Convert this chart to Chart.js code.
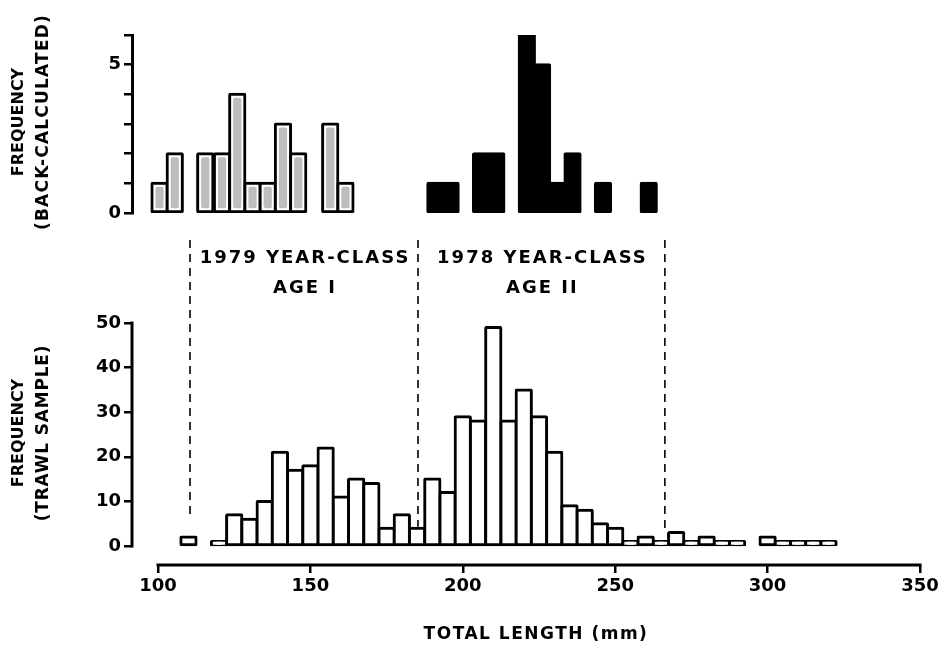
<!DOCTYPE html>
<html><head><meta charset="utf-8">
<script src="https://cdn.jsdelivr.net/npm/chart.js@4"></script>
<style>
html,body{margin:0;padding:0;background:#fff;}
#wrap{position:relative;width:952px;height:649px;background:#fff;}
canvas{position:absolute;left:0;top:0;}
</style></head><body>
<div id="wrap"><canvas id="bottomChart" width="952" height="649"></canvas><canvas id="topChart" width="952" height="649"></canvas></div>
<script>
// ---- data ----
const lengthTicks = [100, 150, 200, 250, 300, 350];
const trawlTicks = [0, 10, 20, 30, 40, 50];
const backCalcTicks = [0, 1, 2, 3, 4, 5, 6];
const backCalcTickLabels = ['0', '', '', '', '', '5', ''];

// trawl sample (5 mm bins, bin centres in mm)
const trawlLengths = [110, 120, 125, 130, 135, 140, 145, 150, 155, 160, 165, 170, 175, 180, 185, 190, 195, 200, 205, 210, 215, 220, 225, 230, 235, 240, 245, 250, 255, 260, 265, 270, 275, 280, 285, 290, 300, 305, 310, 315, 320];
const trawlFreq    = [2,   1,   7,   6,   10,  21,  17,  18,  22,  11,  15,  14,  4,   7,   4,   15,  12,  29,  28,  49,  28,  35,  29,  21,  9,   8,   5,   4,   1,   2,   1,   3,   1,   2,   1,   1,   2,   1,   1,   1,   1];

// back-calculated lengths
const yc1979Lengths = [100.5, 105.5, 115.5, 121, 126, 131, 136, 141, 146, 156.5, 161.5];
const yc1979Freq    = [1, 2, 2, 2, 4, 1, 1, 3, 2, 3, 1];
const yc1978Lengths = [191, 196, 206, 211, 221, 226, 231, 236, 246, 261];
const yc1978Freq    = [1, 1, 2, 2, 6, 5, 1, 2, 1, 1];

// year-class boundaries (mm)
const ageBoundaries = [110.5, 185.3, 266.3];
const groupLabels = [['1979 YEAR-CLASS', 'AGE I'], ['1978 YEAR-CLASS', 'AGE II']];
const topAxisTitle = ['FREQUENCY', '(BACK-CALCULATED)'];
const bottomAxisTitle = ['FREQUENCY', '(TRAWL SAMPLE)'];
const xAxisTitle = 'TOTAL LENGTH (mm)';

// ---- styling / layout ----
const FONT = "'DejaVu Sans', sans-serif";
Chart.defaults.font.family = FONT;
Chart.defaults.font.weight = 'bold';
Chart.defaults.color = '#000';

const X_MIN = 100 - 26 / 3.048;   // keeps the y axis detached from the first length tick
const BAR_W = 5 * 3.048;

function toPoints(xs, ys) { return xs.map((x, i) => ({x: x, y: ys[i]})); }

function drawYTitle(ctx, lines, cy, spacing2) {
  ctx.save();
  ctx.fillStyle = '#000';
  ctx.textAlign = 'center';
  ctx.textBaseline = 'middle';
  ctx.translate(0, cy);
  ctx.rotate(-Math.PI / 2);
  ctx.font = "bold 16px " + FONT;
  ctx.letterSpacing = '0px';
  ctx.fillText(lines[0], 0, 19);
  ctx.font = "bold 17px " + FONT;
  ctx.letterSpacing = spacing2;
  ctx.fillText(lines[1], 0, 44);
  ctx.restore();
}

const barStyle = {
  borderColor: '#000',
  borderWidth: 3,
  borderSkipped: false,
  borderRadius: 2,
  inflateAmount: 1.5,
  barThickness: BAR_W,
  grouped: false
};

const greyFill = {
  id: 'greyFill',
  afterDatasetDraw(chart, args) {
    if (args.index !== 0) return;
    const ctx = chart.ctx;
    ctx.save();
    ctx.fillStyle = '#bdbdbd';
    args.meta.data.forEach(el => {
      const p = el.getProps(['x', 'y', 'base', 'width'], true);
      const inset = 3.5;
      const l = p.x - p.width / 2 + inset, r = p.x + p.width / 2 - inset;
      const t = p.y + inset, b = p.base - inset;
      ctx.beginPath();
      ctx.roundRect(l, t, r - l, b - t, 2);
      ctx.fill();
    });
    ctx.restore();
  },
  afterDraw(chart) {
    const a = chart.chartArea;
    drawYTitle(chart.ctx, topAxisTitle, (a.top + a.bottom) / 2 - 2, '1.2px');
  }
};

const bottomDecor = {
  id: 'bottomDecor',
  afterDraw(chart) {
    const {ctx, chartArea, scales: {x, y}} = chart;
    ctx.save();
    ctx.strokeStyle = '#000';
    ctx.lineWidth = 3;
    // y axis line (0..50)
    ctx.beginPath();
    ctx.moveTo(chartArea.left, y.getPixelForValue(trawlTicks[0]) + 1.5);
    ctx.lineTo(chartArea.left, y.getPixelForValue(trawlTicks[trawlTicks.length - 1]) - 1.5);
    ctx.stroke();
    // x axis line (100..350)
    ctx.beginPath();
    ctx.moveTo(x.getPixelForValue(lengthTicks[0]) - 1.5, chartArea.bottom);
    ctx.lineTo(x.getPixelForValue(lengthTicks[lengthTicks.length - 1]) + 1.5, chartArea.bottom);
    ctx.stroke();
    // dashed year-class boundaries
    const dashEnds = [6.3, 4.3, 3.1];
    ctx.lineWidth = 1.6;
    ctx.setLineDash([8, 6]);
    ageBoundaries.forEach((b, i) => {
      const px = x.getPixelForValue(b);
      ctx.beginPath();
      ctx.moveTo(px, 240);
      ctx.lineTo(px, y.getPixelForValue(dashEnds[i]));
      ctx.stroke();
    });
    ctx.setLineDash([]);
    // group labels
    ctx.fillStyle = '#000';
    ctx.textAlign = 'center';
    ctx.textBaseline = 'middle';
    ctx.font = "bold 18px " + FONT;
    ctx.letterSpacing = '2px';
    groupLabels.forEach((lines, i) => {
      const cx = (x.getPixelForValue(ageBoundaries[i]) + x.getPixelForValue(ageBoundaries[i + 1])) / 2;
      ctx.fillText(lines[0], cx + 1, 258);
      ctx.fillText(lines[1], cx + 1, 288);
    });
    // x title
    ctx.font = "bold 17px " + FONT;
    ctx.letterSpacing = '1.5px';
    ctx.fillText(xAxisTitle, 536, 635);
    ctx.restore();
    // y title
    drawYTitle(ctx, bottomAxisTitle, 433, '0.8px');
  }
};

const commonTicksFont = {size: 18, weight: 'bold', family: FONT};

new Chart(document.getElementById('bottomChart'), {
  type: 'bar',
  data: {
    datasets: [Object.assign({
      label: 'Trawl sample',
      data: toPoints(trawlLengths, trawlFreq),
      backgroundColor: '#fff'
    }, barStyle)]
  },
  options: {
    responsive: false,
    animation: false,
    devicePixelRatio: 1,
    layout: {padding: {top: 323, left: 0, right: 32, bottom: 0}},
    plugins: {legend: {display: false}, tooltip: {enabled: false}},
    scales: {
      x: {
        type: 'linear', min: X_MIN, max: 350, offset: false,
        afterFit: s => { s.height = 84; },
        afterBuildTicks: s => { s.ticks = lengthTicks.map(v => ({value: v})); },
        ticks: {font: commonTicksFont, padding: 3, autoSkip: false, maxRotation: 0},
        grid: {drawOnChartArea: false, tickLength: 8, lineWidth: 2.5, color: '#000', offset: false},
        border: {display: false}
      },
      y: {
        min: -19 / 4.46, max: 50,
        afterFit: s => { s.width = 132; },
        afterBuildTicks: s => { s.ticks = trawlTicks.map(v => ({value: v})); },
        ticks: {font: commonTicksFont, padding: 3},
        grid: {drawOnChartArea: false, tickLength: 8, lineWidth: 2.5, color: '#000'},
        border: {display: false}
      }
    }
  },
  plugins: [bottomDecor]
});

new Chart(document.getElementById('topChart'), {
  type: 'bar',
  data: {
    datasets: [Object.assign({
      label: '1979 year-class',
      data: toPoints(yc1979Lengths, yc1979Freq),
      backgroundColor: '#fff'
    }, barStyle), Object.assign({
      label: '1978 year-class',
      data: toPoints(yc1978Lengths, yc1978Freq),
      backgroundColor: '#000'
    }, barStyle)]
  },
  options: {
    responsive: false,
    animation: false,
    devicePixelRatio: 1,
    layout: {padding: {top: 35, left: 0, right: 32, bottom: 436}},
    plugins: {legend: {display: false}, tooltip: {enabled: false}},
    scales: {
      x: {type: 'linear', min: X_MIN, max: 350, offset: false, display: false},
      y: {
        min: 0, max: 6,
        afterFit: s => { s.width = 132; },
        afterBuildTicks: s => { s.ticks = backCalcTicks.map(v => ({value: v})); },
        ticks: {font: commonTicksFont, padding: 3, callback: (v, i) => backCalcTickLabels[i]},
        grid: {drawOnChartArea: false, tickLength: 8, lineWidth: 2.5, color: '#000'},
        border: {display: true, width: 3, color: '#000'}
      }
    }
  },
  plugins: [greyFill]
});
</script>
</body></html>
